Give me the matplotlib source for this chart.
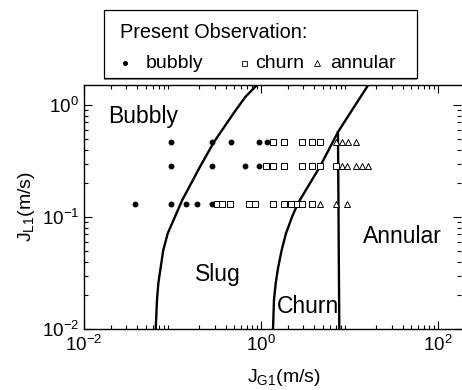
import matplotlib
matplotlib.use("Agg")
import matplotlib.pyplot as plt
from matplotlib.lines import Line2D
from matplotlib.patches import Rectangle

plt.rcParams['font.family'] = ['Liberation Sans', 'DejaVu Sans']
plt.rcParams['mathtext.fontset'] = 'custom'
plt.rcParams['mathtext.rm'] = 'Liberation Sans'
plt.rcParams['mathtext.it'] = 'Liberation Sans:italic'
plt.rcParams['mathtext.default'] = 'regular'

W, H = 462, 390

# liquid superficial velocity of each observation row (m/s)
jl_rows = [0.47, 0.284, 0.13]

# gas superficial velocities observed on each row, by flow pattern (m/s)
bubbly_jg = [
    [0.0955, 0.282, 0.458, 0.94, 1.18],
    [0.0955, 0.282, 0.66, 0.95],
    [0.038, 0.0955, 0.141, 0.189, 0.282],
]
churn_jg = [
    [1.38, 1.82, 2.88, 3.74, 4.64],
    [1.14, 1.38, 1.82, 2.88, 3.74, 4.64, 7.0],
    [0.32, 0.36, 0.45, 0.74, 0.86, 1.38, 1.82, 2.17, 2.53, 2.88, 3.74],
]
annular_jg = [
    [7.0, 8.2, 9.6, 11.8],
    [8.2, 9.4, 11.8, 13.7, 16.1],
    [4.64, 7.0, 9.4],
]

# transition boundaries
bub_slug_jg = [0.0646, 0.0668, 0.0692, 0.0737, 0.0787, 0.0883, 0.1067, 0.129,
               0.205, 0.294, 0.489, 0.668, 0.902]
bub_slug_jl = [0.01, 0.0182, 0.0256, 0.036, 0.0507, 0.0714, 0.1006, 0.142,
               0.282, 0.467, 0.843, 1.186, 1.51]
slug_churn_jg = [1.367, 1.402, 1.466, 1.568, 1.713, 1.916, 2.24, 2.62, 4.64,
                 7.41, 10.96, 16.3]
slug_churn_jl = [0.01, 0.0182, 0.0256, 0.036, 0.0507, 0.0714, 0.1, 0.133,
                 0.282, 0.574, 0.93, 1.51]
churn_ann_jg = [7.41, 7.67]
churn_ann_jl = [0.574, 0.01]

legend_labels = ['bubbly', 'churn', 'annular']


def flatten(rows):
    xs, ys = [], []
    for jl, row in zip(jl_rows, rows):
        xs += row
        ys += [jl] * len(row)
    return xs, ys


def fx(px):
    return px / W


def fy(py):
    return 1 - py / H


fig = plt.figure(figsize=(W / 100, H / 100), dpi=100)
ax = fig.add_axes([fx(84), fy(329), 377 / W, 244 / H])

# boundaries
for xs, ys in [(bub_slug_jg, bub_slug_jl), (slug_churn_jg, slug_churn_jl),
               (churn_ann_jg, churn_ann_jl)]:
    ax.plot(xs, ys, color='black', lw=1.7, zorder=2,
            solid_joinstyle='round')

# observations
styles = [dict(marker='o', ms=3.2, mfc='black', mec='black'),
          dict(marker='s', ms=4.6, mfc='white', mec='black', mew=0.7),
          dict(marker='^', ms=4.8, mfc='white', mec='black', mew=0.7)]
for rows, st in zip([bubbly_jg, churn_jg, annular_jg], styles):
    xs, ys = flatten(rows)
    ax.plot(xs, ys, ls='none', zorder=3, **st)

ax.set_xscale('log')
ax.set_yscale('log')
ax.set_xlim(0.01, 182)
ax.set_ylim(0.01, 1.51)
ax.set_xticks([0.01, 1, 100])
ax.set_yticks([0.01, 0.1, 1])

ax.tick_params(which='both', direction='in', top=True, right=True,
               labelsize=13.5, width=0.8)
ax.tick_params(which='major', length=6)
ax.tick_params(which='minor', length=3)
ax.tick_params(axis='x', pad=4)
ax.spines['right'].set_visible(False)
for s in ['left', 'top', 'bottom']:
    ax.spines[s].set_linewidth(1.0)

ax.set_xlabel('J$_{G1}$(m/s)', fontsize=14)
ax.set_ylabel('J$_{L1}$(m/s)', fontsize=14)
ax.xaxis.set_label_coords(0.53, -0.155)
ax.yaxis.set_label_coords(-0.125, 0.5)

# flow regime names
ax.text(0.0187, 0.687, 'Bubbly', fontsize=16.5, ha='left', va='baseline')
ax.text(0.1795, 0.0268, 'Slug', fontsize=16.5, ha='left', va='baseline')
ax.text(1.50, 0.0138, 'Churn', fontsize=16.5, ha='left', va='baseline')
ax.text(14.2, 0.059, 'Annular', fontsize=16.5, ha='left', va='baseline')

# legend box above the axes
box_l, box_t, box_r, box_b = 103.5, 10, 417, 78
fig.add_artist(Rectangle((fx(box_l), fy(box_b + 2)), fx(box_r - box_l),
                         (box_b - box_t) / H, transform=fig.transFigure,
                         facecolor='0.55', edgecolor='none'))
fig.add_artist(Rectangle((fx(box_l), fy(box_b)), fx(box_r - box_l),
                         (box_b - box_t) / H, transform=fig.transFigure,
                         facecolor='white', edgecolor='black', lw=0.9))
fig.text(fx(120), fy(37.5), 'Present Observation:', fontsize=14.3,
         ha='left', va='baseline')
key_marker_x = [125, 243.5, 317]
key_text_x = [145.5, 255, 330]
key_styles = [dict(marker='o', ms=2.6, mfc='black', mec='black'),
              dict(marker='s', ms=3.6, mfc='white', mec='black', mew=0.6),
              dict(marker='^', ms=3.8, mfc='white', mec='black', mew=0.6)]
for mx, tx, st, lab in zip(key_marker_x, key_text_x, key_styles,
                           legend_labels):
    fig.add_artist(Line2D([fx(mx)], [fy(62.5)], transform=fig.transFigure,
                          ls='none', **st))
    fig.text(fx(tx), fy(68.5), lab, fontsize=14, ha='left', va='baseline')

fig.savefig('out.png', dpi=100)
